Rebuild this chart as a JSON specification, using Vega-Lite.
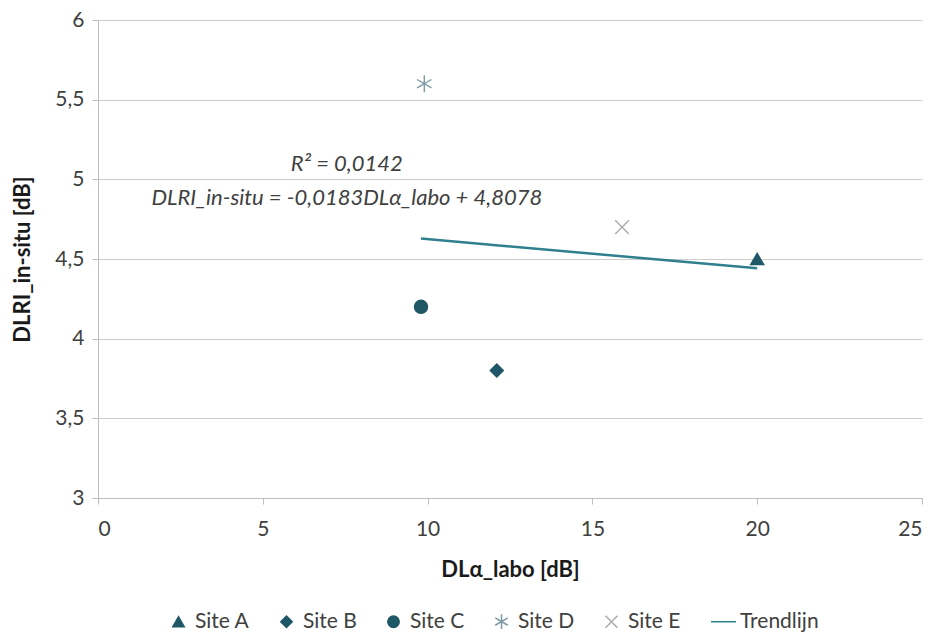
{
  "$schema": "https://vega.github.io/schema/vega-lite/v6.json",
  "width": 824,
  "height": 478,
  "autosize": {"type": "none"},
  "padding": {"left": 98, "top": 20, "right": 12, "bottom": 137},
  "background": "white",
  "config": {
    "font": "Lato",
    "view": {"stroke": null},
    "axis": {
      "labelFont": "Lato",
      "labelFontSize": 21,
      "labelColor": "#404040",
      "titleFont": "Lato",
      "titleFontSize": 22,
      "titleFontWeight": "bold",
      "titleColor": "#1a1a1a",
      "domainColor": "#bdbdbd",
      "tickColor": "#bdbdbd",
      "gridColor": "#cccccc",
      "tickSize": 6
    },
    "legend": {
      "labelFont": "Lato",
      "labelFontSize": 21,
      "labelColor": "#404040",
      "symbolSize": 130,
      "symbolStrokeWidth": 1.5,
      "columnPadding": 26,
      "labelOffset": 6
    }
  },
  "datasets": {
    "sites": [
      {"site": "Site A", "labo": 20.0, "insitu": 4.5},
      {"site": "Site B", "labo": 12.1, "insitu": 3.8},
      {"site": "Site C", "labo": 9.8, "insitu": 4.2},
      {"site": "Site D", "labo": 9.9, "insitu": 5.6},
      {"site": "Site E", "labo": 15.9, "insitu": 4.7}
    ],
    "notes": [
      {"labo": 7.55, "insitu": 5.095, "text": "R² = 0,0142"},
      {"labo": 7.55, "insitu": 4.88, "text": "DLRI_in-situ = -0,0183DLα_labo + 4,8078"}
    ]
  },
  "layer": [
    {
      "data": {"name": "sites"},
      "transform": [{"regression": "insitu", "on": "labo"}],
      "mark": {"type": "line", "stroke": "#2f7f8f", "strokeWidth": 2.5},
      "encoding": {
        "x": {
          "field": "labo",
          "type": "quantitative",
          "scale": {"domain": [0, 25], "nice": false},
          "axis": {
            "title": "DLα_labo [dB]",
            "values": [0, 5, 10, 15, 20, 25],
            "grid": false,
            "labelPadding": 14,
            "titlePadding": 20
          }
        },
        "y": {
          "field": "insitu",
          "type": "quantitative",
          "scale": {"domain": [3, 6], "nice": false, "zero": false},
          "axis": {
            "title": "DLRI_in-situ [dB]",
            "values": [3, 3.5, 4, 4.5, 5, 5.5, 6],
            "labelExpr": "replace(format(datum.value, '.1~f'), '.', ',')",
            "grid": true,
            "labelPadding": 8,
            "titlePadding": 20
          }
        }
      }
    },
    {
      "data": {"name": "sites"},
      "mark": {"type": "point", "opacity": 1, "strokeWidth": 1.4},
      "encoding": {
        "x": {"field": "labo", "type": "quantitative"},
        "y": {"field": "insitu", "type": "quantitative"},
        "shape": {
          "field": "site",
          "type": "nominal",
          "scale": {
            "domain": ["Site A", "Site B", "Site C", "Site D", "Site E", "Trendlijn"],
            "range": [
              "triangle-up",
              "diamond",
              "circle",
              "M0,-1.3L0,1.3M-1.1,-0.65L1.1,0.65M-1.1,0.65L1.1,-0.65",
              "M-1.05,-1.05L1.05,1.05M-1.05,1.05L1.05,-1.05",
              "M-2.2,0L2.2,0"
            ]
          },
          "legend": {
            "title": null,
            "orient": "none",
            "legendX": 70,
            "legendY": 591,
            "direction": "horizontal"
          }
        },
        "fill": {
          "field": "site",
          "type": "nominal",
          "scale": {
            "domain": ["Site A", "Site B", "Site C", "Site D", "Site E", "Trendlijn"],
            "range": ["#1e5766", "#1e5766", "#1e5766", "transparent", "transparent", "transparent"]
          },
          "legend": {
            "title": null,
            "orient": "none",
            "legendX": 70,
            "legendY": 591,
            "direction": "horizontal"
          }
        },
        "stroke": {
          "field": "site",
          "type": "nominal",
          "scale": {
            "domain": ["Site A", "Site B", "Site C", "Site D", "Site E", "Trendlijn"],
            "range": ["#1e5766", "#1e5766", "#1e5766", "#7d9ba3", "#ababab", "#2f7f8f"]
          },
          "legend": {
            "title": null,
            "orient": "none",
            "legendX": 70,
            "legendY": 591,
            "direction": "horizontal"
          }
        },
        "size": {"value": 170}
      }
    },
    {
      "data": {"name": "notes"},
      "mark": {"type": "text", "font": "Lato", "fontSize": 22, "fontStyle": "italic", "color": "#404040", "align": "center", "baseline": "middle"},
      "encoding": {
        "x": {"field": "labo", "type": "quantitative"},
        "y": {"field": "insitu", "type": "quantitative"},
        "text": {"field": "text"}
      }
    }
  ]
}
